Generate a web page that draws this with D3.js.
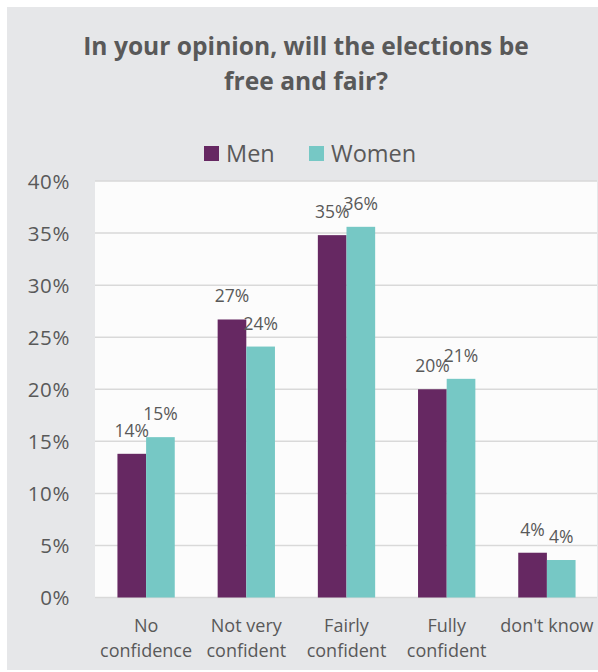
<!DOCTYPE html>
<html>
<head>
<meta charset="utf-8">
<script src="https://cdn.jsdelivr.net/npm/d3@7"></script>
<style>
  html, body { margin: 0; padding: 0; background: #ffffff; }
  svg { display: block; }
  text { font-family: "Open Sans", "Noto Sans", sans-serif; fill: #595959; }
</style>
</head>
<body>
<svg id="chart" width="598" height="672"></svg>
<script>
// Survey answers by gender
const categories = [["No", "confidence"], ["Not very", "confident"], ["Fairly", "confident"], ["Fully", "confident"], ["don't know"]];
const seriesNames = ["Men", "Women"];
const men   = [0.138, 0.267, 0.348, 0.200, 0.043];
const women = [0.154, 0.241, 0.356, 0.210, 0.036];
const yTicks = [0, 0.05, 0.10, 0.15, 0.20, 0.25, 0.30, 0.35, 0.40];
const titleLines = ["In your opinion, will the elections be", "free and fair?"];

const colors = { Men: "#662862", Women: "#76c8c5" };

const svg = d3.select("#chart");
const W = 598, H = 672;

// outer panel
svg.append("rect").attr("x", 7).attr("y", 7).attr("width", W - 7).attr("height", 663)
  .attr("fill", "#e6e7e9");

const plot = { left: 95, right: 597, top: 181, bottom: 597.5 };

const keys = categories.map(c => c.join(" "));
const x0 = d3.scaleBand().domain(keys).range([plot.left + 1, plot.right]).paddingInner(0.428).paddingOuter(0.214);
const x1 = d3.scaleBand().domain(seriesNames).range([0, x0.bandwidth()]);
const y = d3.scaleLinear().domain([0, 0.40]).range([plot.bottom, plot.top]);

// plot background
svg.append("rect").attr("x", plot.left).attr("y", plot.top)
  .attr("width", plot.right - plot.left).attr("height", plot.bottom - plot.top)
  .attr("fill", "#fcfcfc");

// gridlines
svg.append("g").selectAll("line").data(yTicks).join("line")
  .attr("x1", plot.left).attr("x2", plot.right)
  .attr("y1", d => y(d)).attr("y2", d => y(d))
  .attr("stroke", "#d9d9d9").attr("stroke-width", 1.5);

// y axis labels
const yAxis = d3.axisLeft(y).tickValues(yTicks).tickFormat(d3.format(".0%")).tickSize(0).tickPadding(0);
const yg = svg.append("g").attr("transform", `translate(70,0)`).call(yAxis);
yg.select(".domain").remove();
yg.selectAll("text").attr("font-size", 20.5).attr("fill", "#595959")
  .attr("font-family", "'Open Sans', sans-serif").attr("letter-spacing", 0.6)
  .attr("dy", "0.36em");

// bars
const rows = keys.map((k, i) => ({ key: k, values: [{ s: "Men", v: men[i] }, { s: "Women", v: women[i] }] }));
const groups = svg.append("g").selectAll("g").data(rows).join("g")
  .attr("transform", d => `translate(${x0(d.key)},0)`);

groups.selectAll("rect").data(d => d.values).join("rect")
  .attr("x", d => x1(d.s)).attr("width", x1.bandwidth())
  .attr("y", d => y(d.v)).attr("height", d => y(0) - y(d.v))
  .attr("fill", d => colors[d.s]);

groups.selectAll("text.val").data(d => d.values).join("text")
  .attr("class", "val")
  .attr("x", d => x1(d.s) + x1.bandwidth() / 2)
  .attr("y", d => y(d.v) - 17)
  .attr("text-anchor", "middle").attr("font-size", 17.5)
  .text(d => d3.format(".0%")(d.v));

// category labels
const xg = svg.append("g");
categories.forEach((lines, i) => {
  const t = xg.append("text")
    .attr("x", x0(keys[i]) + x0.bandwidth() / 2)
    .attr("y", 632)
    .attr("text-anchor", "middle").attr("font-size", 18);
  lines.forEach((ln, j) => {
    t.append("tspan").attr("x", x0(keys[i]) + x0.bandwidth() / 2)
      .attr("dy", j === 0 ? 0 : 24.5).text(ln);
  });
});

// title
svg.append("text").attr("x", 306).attr("y", 55)
  .attr("text-anchor", "middle").attr("font-size", 24.6).attr("font-weight", 700)
  .selectAll("tspan").data(titleLines).join("tspan")
  .attr("x", 306).attr("dy", (d, i) => i === 0 ? 0 : 35).text(d => d);

// legend
const legendX = { Men: 204, Women: 309 };
const lg = svg.append("g");
seriesNames.forEach(s => {
  lg.append("rect").attr("x", legendX[s]).attr("y", 146).attr("width", 15).attr("height", 15)
    .attr("fill", colors[s]);
  lg.append("text").attr("x", legendX[s] + 22).attr("y", 161.5)
    .attr("font-size", 23.5).text(s);
});
</script>
</body>
</html>
